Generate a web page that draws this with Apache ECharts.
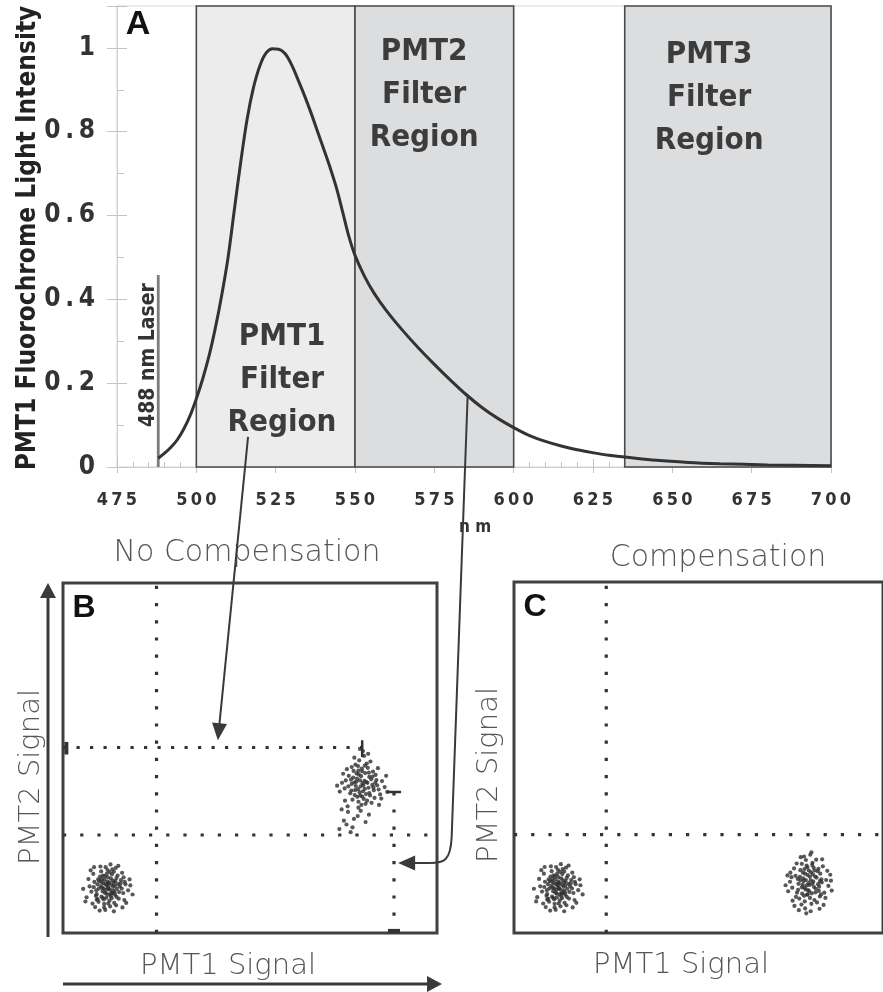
<!DOCTYPE html>
<html>
<head>
<meta charset="utf-8">
<script src="https://cdn.jsdelivr.net/npm/echarts@6/dist/echarts.min.js"></script>
<style>
  html, body { margin: 0; padding: 0; background: #fff; }
  #chart { width: 883px; height: 992px; }
</style>
</head>
<body>
<div id="chart"></div>
<script>
// ---- Panel A: emission spectrum of the PMT1 fluorochrome ----
const wavelengths = [488,490,492,494,496,498,500,502,504,506,508,510,512,514,516,518,520,522,524,526,528,530,532,534,536,538,540,542,544,546,548,550,553,556,560,565,570,575,580,585,590,595,600,605,610,615,620,625,630,635,645,655,665,680,700];
const intensity = [0.021,0.033,0.047,0.065,0.09,0.122,0.163,0.21,0.265,0.332,0.41,0.50,0.615,0.728,0.83,0.905,0.957,0.988,0.998,0.997,0.986,0.96,0.925,0.888,0.848,0.805,0.762,0.718,0.67,0.612,0.552,0.505,0.455,0.415,0.372,0.326,0.284,0.245,0.208,0.173,0.142,0.116,0.094,0.075,0.061,0.05,0.041,0.034,0.028,0.024,0.016,0.011,0.008,0.005,0.003];
const xTicks = [475,500,525,550,575,600,625,650,675,700];
const yTicks = [0,0.2,0.4,0.6,0.8,1];
const yTickLabels = ['0','0\u2009.\u20092','0\u2009.\u20094','0\u2009.\u20096','0\u2009.\u20098','1'];
const laserNm = 488;
const laserHeight = 0.458;
const filterNames = ['PMT1\nFilter\nRegion','PMT2\nFilter\nRegion','PMT3\nFilter\nRegion'];
const filterFrom = [500,550,635];
const filterTo = [550,600,700];
// label anchors (wavelength, intensity) for the filter captions
const filterLabelNm = [527,571.8,661.6];
const filterLabelY = [0.208,0.888,0.881];

// ---- Panels B & C: two-colour dot plots (arbitrary signal units 0-100) ----
const negCells = [[12.1,13.0],[10.8,14.2],[13.5,12.1],[11.2,11.5],[14.0,14.8],[9.6,12.7],[12.8,15.6],[10.3,10.4],[13.9,10.9],[11.7,16.9],
[8.4,14.6],[15.2,13.3],[12.4,9.2],[9.9,16.1],[14.6,16.4],[7.6,11.8],[16.1,11.4],[11.0,8.3],[13.2,18.2],[10.1,13.4],
[12.9,13.8],[11.5,12.3],[13.6,14.3],[10.6,11.9],[12.3,11.0],[14.4,12.6],[9.2,13.9],[11.9,14.7],[15.5,15.1],[8.8,10.6],
[13.1,16.8],[10.4,15.4],[16.7,13.9],[7.1,13.3],[12.6,7.6],[14.9,9.8],[9.5,8.9],[11.4,18.8],[6.3,10.2],[17.4,12.2],
[13.8,11.6],[10.9,9.6],[12.0,15.9],[15.8,17.2],[8.1,16.9],[14.2,7.9],[9.0,11.1],[16.4,9.4],[11.6,10.1],[13.4,13.2],
[10.2,17.6],[12.7,19.6],[7.9,8.4],[15.0,11.7],[11.1,15.2],[13.0,9.9],[9.7,14.8],[14.7,14.0],[12.2,12.6],[10.5,12.9],
[17.8,15.3],[6.8,15.4],[8.6,7.4],[15.9,7.3],[12.5,17.4],[11.3,6.6],[14.1,18.6],[5.4,12.6],[18.6,11.0],[10.0,19.0],
[13.7,8.6],[9.3,9.7],[16.2,15.9],[7.4,17.9],[12.9,11.3],[11.8,13.6],[10.7,16.4],[14.3,10.3],[8.9,12.2],[15.4,14.2],
[13.3,15.0],[11.0,7.3],[16.9,8.6],[9.8,6.4],[12.4,14.4],[6.0,9.0],[14.8,19.2],[18.0,13.6],[8.3,18.8],[13.6,6.2],
[11.4,13.9],[12.6,12.3],[10.9,12.7],[13.2,11.4],[12.0,14.1],[11.6,11.2],[13.9,13.5],[10.3,14.6],[12.8,10.5],[11.2,16.2],
[14.3,15.7],[9.4,15.3],[15.7,12.7],[8.2,13.1],[12.1,8.4],[13.6,17.5],[10.6,10.0],[16.5,14.6],[9.0,9.5],[11.9,18.0]];

const posUncompensated = [[80.1,42.8],[78.6,44.1],[81.7,41.5],[79.3,40.2],[82.4,43.9],[77.2,42.6],[80.8,45.7],[78.0,39.4],[83.1,40.8],[79.9,47.0],
[76.4,44.9],[84.0,42.2],[80.4,38.3],[77.7,46.3],[82.9,46.1],[75.3,41.3],[84.8,39.6],[79.0,37.5],[81.2,48.4],[78.3,42.0],
[80.6,43.5],[79.6,41.9],[81.9,44.6],[78.9,41.1],[80.2,40.5],[82.7,42.3],[77.0,43.8],[79.7,44.8],[83.6,45.2],[76.8,39.9],
[81.5,47.2],[78.5,45.6],[85.3,43.4],[74.6,42.9],[80.9,36.9],[83.3,38.6],[77.4,38.1],[79.2,49.3],[74.0,40.4],[86.0,41.7],
[81.9,40.0],[78.7,38.9],[80.0,46.2],[84.2,47.1],[75.9,46.8],[82.5,37.2],[77.1,40.7],[85.1,38.4],[79.5,39.3],[81.4,42.9],
[78.2,48.1],[80.5,50.6],[75.4,37.8],[83.0,41.6],[79.1,45.3],[81.0,39.7],[77.6,44.4],[83.8,43.7],[80.3,42.2],[78.4,43.2],
[86.4,44.9],[74.9,45.5],[76.1,36.2],[84.5,36.6],[80.7,47.8],[79.0,35.8],[82.2,49.0],[73.3,42.1],[86.7,40.3],[77.9,50.1],
[76.2,34.6],[78.8,33.4],[75.1,32.1],[80.9,31.7],[77.4,30.2],[73.9,29.7],[79.6,34.9],[76.9,28.8],[81.8,33.8],[74.5,35.3],
[77.8,32.6],[75.8,31.0],[80.2,52.0],[81.6,51.2],[79.4,52.6],
[79.4,43.6],[81.1,43.1],[78.1,40.8],[82.1,39.3],[80.7,41.2],[79.0,46.4],[77.9,43.0],[81.8,45.8],[83.5,42.9],[76.3,41.9],
[80.0,39.0],[78.9,47.7],[82.8,44.7],[75.6,43.6],[84.4,41.0],[79.8,36.6],[77.2,47.4],[81.3,37.8]];

const posCompensated = [[79.8,14.2],[78.4,15.6],[81.3,13.1],[79.0,12.4],[82.0,15.8],[77.1,14.0],[80.5,17.3],[78.1,11.2],[82.6,12.0],[79.5,18.7],
[76.3,16.3],[83.4,14.4],[80.2,10.0],[77.6,17.9],[82.3,17.6],[75.4,12.9],[84.1,11.5],[78.8,9.0],[80.9,20.0],[78.2,13.8],
[80.4,15.0],[79.3,13.5],[81.6,16.1],[78.7,12.9],[80.0,11.9],[82.4,13.9],[76.9,15.4],[79.6,16.5],[83.0,16.9],[76.7,11.5],
[81.2,18.6],[78.3,17.2],[84.6,15.1],[74.8,14.6],[80.6,8.3],[82.9,10.4],[77.3,9.8],[79.1,20.8],[74.3,11.9],[85.2,13.4],
[81.7,11.6],[78.6,10.6],[79.9,17.8],[83.7,19.0],[75.9,18.4],[82.1,8.7],[77.0,12.3],[84.4,10.0],[79.4,10.9],[81.1,14.7],
[78.0,19.7],[80.3,22.3],[75.5,9.2],[82.7,13.2],[78.9,16.9],[80.7,11.3],[77.5,16.0],[83.3,15.3],[80.1,13.7],[78.5,14.8],
[85.7,16.6],[74.9,17.2],[76.0,7.7],[83.9,8.0],[80.8,19.4],[78.9,7.0],[81.9,20.9],[73.6,13.6],[86.1,12.1],[77.7,21.6],
[80.4,6.2],[76.6,19.8],[83.5,21.0],[79.2,5.6],[81.4,9.4],[75.2,15.9],[84.9,17.7],[77.9,8.1],[82.5,18.3],[79.7,12.2],
[81.0,16.7],[76.4,10.3],[83.2,11.0],[78.6,21.8],[80.6,23.0],[74.1,16.4],[85.9,14.9],[77.2,6.5],[82.8,6.9],[79.3,19.2],
[80.9,14.0],[79.1,15.1],[78.0,13.0],[81.8,12.6],[80.2,16.0],[79.6,11.0],[82.9,14.8],[77.6,15.0],[81.5,17.8],[78.7,18.2]];

// quadrant gates and spill-over guides
const gateNegX = 25;
const gateNegY = 28;
const spillLevelY = 53;
const spillLevelEndX = 80;
const spillPosX = 88.5;
const spillPosTopY = 40.3;

const BOLD = '"DejaVu Sans Condensed", "DejaVu Sans", sans-serif';
const THIN = '"DejaVu Sans", sans-serif';
const ARIAL = '"Liberation Sans", Arial, sans-serif';
const DOT = '#333';

function dotted(gap) {
  return { color: DOT, width: 3.2, type: [3.2, gap], cap: 'butt' };
}
function segment(data, xi, style) {
  return { type: 'line', xAxisIndex: xi, yAxisIndex: xi, data: data, showSymbol: false,
           silent: true, lineStyle: style, z: 3, animation: false };
}
function cells(data, xi) {
  return { type: 'scatter', xAxisIndex: xi, yAxisIndex: xi, data: data, symbol: 'circle',
           symbolSize: 4.2, itemStyle: { color: '#2e2e2e' }, silent: true, z: 4, animation: false };
}

const filterFill = ['#ececec', '#dcdddf', '#dcdddf'];
const regionAreas = filterFrom.map((f, i) => [
  { xAxis: f, itemStyle: { color: filterFill[i], borderColor: '#4a4a4a', borderWidth: 1.6 } },
  { xAxis: filterTo[i] }
]);

const tickLabelX = v => String(v).split('').join('\u2009');

const chart = echarts.init(document.getElementById('chart'));

const gridA = { left: 117, top: 6, width: 714, height: 461, show: true, borderColor: '#d6d6d6', borderWidth: 1, backgroundColor: 'transparent' };
const gridB = { left: 63, top: 583, width: 374, height: 350, show: true, borderColor: '#404040', borderWidth: 3 };
const gridC = { left: 514, top: 582, width: 374, height: 351, show: true, borderColor: '#404040', borderWidth: 3 };

const hiddenAxis = gi => ({ type: 'value', gridIndex: gi, min: 0, max: 100, show: false });
const tickGray = { color: '#c4c4c4' };

const option = {
  animation: false,
  backgroundColor: '#fff',
  grid: [gridA, gridB, gridC],
  xAxis: [
    { type: 'value', gridIndex: 0, position: 'bottom', min: 475, max: 700, interval: 25,
      axisLine: { lineStyle: { color: '#cfcfcf', width: 1 } },
      axisTick: { inside: true, length: 8, lineStyle: tickGray },
      minorTick: { show: true, splitNumber: 5, length: 5, lineStyle: tickGray },
      splitLine: { show: false },
      axisLabel: { margin: 24, color: '#333', fontFamily: BOLD, fontWeight: 'bold', fontSize: 18, formatter: tickLabelX } },
    { type: 'value', gridIndex: 0, position: 'bottom', min: 475, max: 700, interval: 25,
      axisLine: { show: false }, axisLabel: { show: false }, splitLine: { show: false },
      axisTick: { length: 6, lineStyle: tickGray } },
    hiddenAxis(1), hiddenAxis(2)
  ],
  yAxis: [
    { type: 'value', gridIndex: 0, position: 'left', min: 0, max: 1.1, interval: 0.2,
      axisLine: { show: true, lineStyle: { color: '#cfcfcf', width: 1 } },
      axisTick: { show: true, inside: true, length: 10, lineStyle: tickGray },
      minorTick: { show: true, splitNumber: 2, length: 7, lineStyle: tickGray },
      splitLine: { show: false },
      axisLabel: { show: false } },
    { type: 'value', gridIndex: 0, position: 'left', min: 0, max: 1.1, interval: 0.2,
      axisLine: { show: false }, axisLabel: { show: false }, splitLine: { show: false },
      axisTick: { show: true, length: 10, lineStyle: tickGray } },
    hiddenAxis(1), hiddenAxis(2)
  ],
  series: [
    { name: 'emission', type: 'line', xAxisIndex: 0, yAxisIndex: 0,
      data: wavelengths.map((w, i) => [w, intensity[i]]),
      smooth: 0.35, showSymbol: false, z: 6, silent: true,
      lineStyle: { color: '#333', width: 3 } },
    { name: 'laser', type: 'line', xAxisIndex: 0, yAxisIndex: 0,
      data: [[laserNm, 0], [laserNm, laserHeight]], showSymbol: false, z: 5, silent: true,
      lineStyle: { color: '#7d7d7d', width: 2.8 },
      markArea: { silent: true, z: 1, data: regionAreas } },

    // panel B: no compensation
    segment([[gateNegX, 0], [gateNegX, 100]], 2, dotted(14)),
    segment([[0, gateNegY], [100, gateNegY]], 2, dotted(14)),
    segment([[0, spillLevelY], [spillLevelEndX, spillLevelY]], 2, dotted(10.3)),
    segment([[spillPosX, 0], [spillPosX, spillPosTopY]], 2, dotted(14)),
    segment([[0.9, 51], [0.9, 54.6]], 2, { color: '#333', width: 4 }),
    segment([[spillLevelEndX, 50.3], [spillLevelEndX, 55.1]], 2, { color: '#333', width: 2.5 }),
    segment([[86.6, spillPosTopY], [90.4, spillPosTopY]], 2, { color: '#333', width: 2.5 }),
    segment([[86.9, 0.6], [90.1, 0.6]], 2, { color: '#333', width: 4 }),
    cells(negCells, 2),
    cells(posUncompensated, 2),

    // panel C: compensated
    segment([[gateNegX, 0], [gateNegX, 100]], 3, dotted(14)),
    segment([[0, gateNegY], [100, gateNegY]], 3, dotted(14)),
    cells(negCells, 3),
    cells(posCompensated, 3)
  ]
};

chart.setOption(option);

const seriesB = 10; // negCells in panel B
const pA = v => chart.convertToPixel({ seriesIndex: 0 }, v);
const pB = v => chart.convertToPixel({ seriesIndex: seriesB }, v);

function text(x, y, str, font, fill, extra) {
  return { type: 'text', x: x, y: y, silent: true, z: 20,
    style: Object.assign({ text: str, font: font, fill: fill, align: 'center', verticalAlign: 'middle' }, extra || {}) };
}
function rtext(x, y, str, font, fill) {
  const t = text(x, y, str, font, fill);
  t.rotation = Math.PI / 2;
  return t;
}
function head(tip, angle, len, half) {
  const bx = tip[0] - Math.cos(angle) * len, by = tip[1] - Math.sin(angle) * len;
  const nx = -Math.sin(angle) * half, ny = Math.cos(angle) * half;
  return { type: 'polygon', silent: true, z: 21,
    shape: { points: [tip, [bx + nx, by + ny], [bx - nx, by - ny]] }, style: { fill: '#3a3a3a' } };
}
function seg(a, b, w) {
  return { type: 'line', silent: true, z: 21, shape: { x1: a[0], y1: a[1], x2: b[0], y2: b[1] },
           style: { stroke: '#3a3a3a', lineWidth: w || 2 } };
}

const graphics = [];
// intensity tick labels, placed on the y scale and right-aligned against the axis
yTicks.forEach((v, i) => {
  const p = pA([475, v]);
  graphics.push(text(p[0] - 22, p[1], yTickLabels[i], 'bold 26px ' + BOLD, '#333', { align: 'right' }));
});
// panel letters and captions
graphics.push(text(138, 25, 'A', 'bold 34px ' + ARIAL, '#111'));
graphics.push(text(84, 608, 'B', 'bold 32px ' + ARIAL, '#111'));
graphics.push(text(535, 607, 'C', 'bold 32px ' + ARIAL, '#111'));
graphics.push(rtext(28, 238, 'PMT1 Fluorochrome Light Intensity', 'bold 26px ' + BOLD, '#222'));
const laserTop = pA([laserNm, laserHeight]);
graphics.push(rtext(laserTop[0] - 10, laserTop[1] + 80, '488 nm Laser', 'bold 21px ' + BOLD, '#333'));
filterNames.forEach((n, i) => {
  const p = pA([filterLabelNm[i], filterLabelY[i]]);
  graphics.push(text(p[0], p[1], n, 'bold 31px ' + BOLD, '#3c3c3c', { lineHeight: 43 }));
});
graphics.push(text(475, 528, 'n m', 'bold 17px ' + BOLD, '#333'));
graphics.push(text(247, 553, 'No Compensation', '200 30px ' + THIN, '#555'));
graphics.push(text(718, 558, 'Compensation', '200 30px ' + THIN, '#555'));
graphics.push(rtext(31, 777, 'PMT2 Signal', '200 29px ' + THIN, '#555'));
graphics.push(rtext(489, 775, 'PMT2 Signal', '200 29px ' + THIN, '#555'));
graphics.push(text(228, 966, 'PMT1 Signal', '200 29px ' + THIN, '#555'));
graphics.push(text(681, 965, 'PMT1 Signal', '200 29px ' + THIN, '#555'));

// signal direction arrows around panel B
graphics.push(seg([48, 937], [48, 596], 3));
graphics.push(head([48, 583], -Math.PI / 2, 15, 8));
graphics.push(seg([63, 984], [429, 984], 3));
graphics.push(head([442, 984], 0, 15, 8));

// connector: PMT1 filter band -> PMT1 signal level in B
const a1s = pA([516.3, 0.072]);
const a1t = pB([41.4, 55.1]);
const ang1 = Math.atan2(a1t[1] - a1s[1], a1t[0] - a1s[0]);
graphics.push(seg(a1s, [a1t[0] - Math.cos(ang1) * 14, a1t[1] - Math.sin(ang1) * 14], 2));
graphics.push(head(a1t, ang1, 17, 7.5));

// connector: spectrum tail in PMT2 band -> PMT2 spill-over level in B
const a2s = pA([585.5, 0.17]);
const a2t = pB([89.6, 20]);
const bend = [a2s[0] - 16, a2t[1] - 26];
graphics.push({ type: 'polyline', silent: true, z: 21, shape: { points: [a2s, bend] },
  style: { stroke: '#3a3a3a', lineWidth: 2, fill: null } });
graphics.push({ type: 'bezierCurve', silent: true, z: 21,
  shape: { x1: bend[0], y1: bend[1], cpx1: bend[0] - 1, cpy1: a2t[1] - 2, cpx2: bend[0] - 8, cpy2: a2t[1],
           x2: a2t[0] + 32, y2: a2t[1] }, style: { stroke: '#3a3a3a', lineWidth: 2, fill: null } });
graphics.push(seg([a2t[0] + 32, a2t[1]], [a2t[0] + 14, a2t[1]], 2));
graphics.push(head(a2t, Math.PI, 17, 7.5));

chart.setOption({ graphic: graphics });
</script>
</body>
</html>
